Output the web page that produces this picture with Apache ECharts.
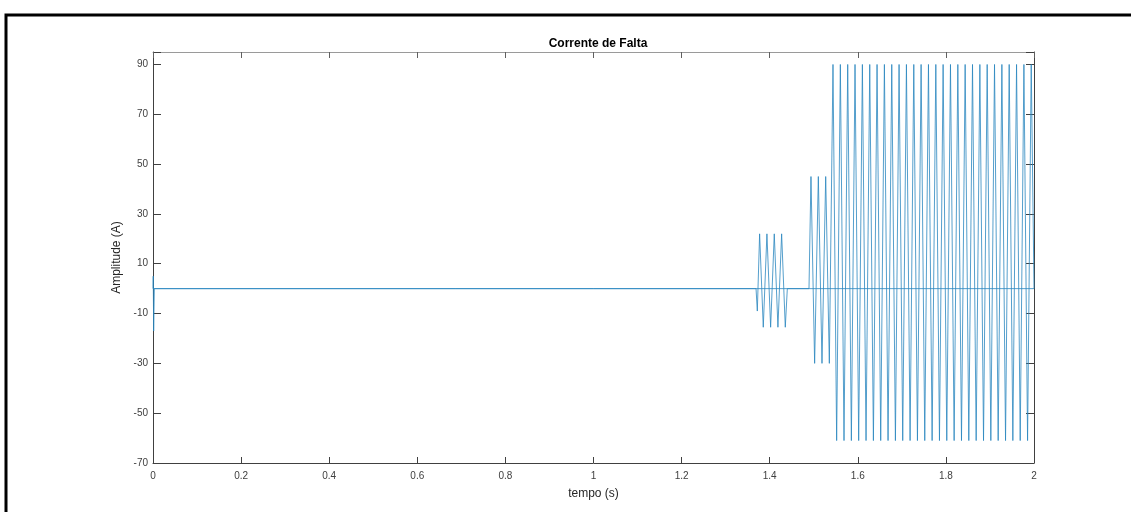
<!DOCTYPE html>
<html>
<head>
<meta charset="utf-8">
<script src="https://cdn.jsdelivr.net/npm/echarts@6/dist/echarts.min.js"></script>
<style>
  html, body { margin: 0; padding: 0; background: #fff; }
  #grafico { width: 1131px; height: 512px; }
</style>
</head>
<body>
<div id="grafico"></div>
<script>
// tempo (s) dos vértices
const tempo = [
  0, 0.0005, 0.0015, 0.003,
  1.369, 1.3719, 1.3771, 1.3854, 1.3937, 1.4021, 1.4104, 1.4187, 1.4271, 1.4354, 1.44,
  1.4892, 1.4937, 1.502, 1.5104, 1.5187, 1.5271, 1.5354,
  1.5437, 1.552, 1.5604, 1.5687, 1.5771, 1.5854, 1.5937, 1.602, 1.6104, 1.6187,
  1.6271, 1.6354, 1.6437, 1.652, 1.6604, 1.6687, 1.6771, 1.6854, 1.6937, 1.702,
  1.7104, 1.7187, 1.7271, 1.7354, 1.7437, 1.752, 1.7604, 1.7687, 1.7771, 1.7854,
  1.7937, 1.802, 1.8104, 1.8187, 1.8271, 1.8354, 1.8437, 1.852, 1.8604, 1.8687,
  1.8771, 1.8854, 1.8937, 1.902, 1.9104, 1.9187, 1.9271, 1.9354, 1.9437, 1.952,
  1.9604, 1.9687, 1.9771, 1.9854, 1.9937, 2
]
// corrente (A) nos mesmos vértices
const corrente = [
  0, 5, -17, 0,
  0, -9, 22, -15.5, 22, -15.5, 22, -15.5, 22, -15.5, 0,
  0, 45, -30, 45, -30, 45, -30,
  90, -61, 90, -61, 90, -61, 90, -61, 90, -61,
  90, -61, 90, -61, 90, -61, 90, -61, 90, -61,
  90, -61, 90, -61, 90, -61, 90, -61, 90, -61,
  90, -61, 90, -61, 90, -61, 90, -61, 90, -61,
  90, -61, 90, -61, 90, -61, 90, -61, 90, -61,
  90, -61, 90, -61, 90, 0
]
// linha de zero
const baseTempo = [0, 2]
const baseCorrente = [0, 0]

const xTicks = [0, 0.2, 0.4, 0.6, 0.8, 1, 1.2, 1.4, 1.6, 1.8, 2]
const yTicks = [-70, -50, -30, -10, 10, 30, 50, 70, 90]

function grafico() {
  const cor = '#2a87bf'
  const texto = '#262626'
  const fonte = 'Liberation Sans, Arial, sans-serif'

  const option = {
    animation: false,
    backgroundColor: '#fff',
    textStyle: { fontFamily: fonte },
    title: {
      text: 'Corrente de Falta',
      left: 593,
      top: 33,
      textAlign: 'center',
      textStyle: { fontSize: 12, fontWeight: 'bold', color: '#000', fontFamily: fonte },
    },
    graphic: [
      {
        type: 'rect',
        shape: { x: 6, y: 15, width: 1300, height: 700 },
        style: { fill: 'none', stroke: '#000', lineWidth: 3 },
        silent: true,
      },
    ],
    grid: { left: 153, right: 97, top: 52, bottom: 49 },
    xAxis: [
      {
        type: 'value',
        min: 0,
        max: 2,
        interval: 0.2,
        name: 'tempo (s)',
        nameLocation: 'middle',
        nameGap: 25,
        nameTextStyle: { fontSize: 12, color: texto },
        axisLine: { onZero: false, lineStyle: { color: '#404040', width: 1 } },
        axisTick: { inside: true, length: 6, lineStyle: { color: '#404040' } },
        axisLabel: {
          fontSize: 10,
          color: '#404040',
          margin: 8,
          formatter: v => (xTicks.includes(+v.toFixed(1)) ? String(+v.toFixed(1)) : ''),
        },
        splitLine: { show: false },
      },
      {
        type: 'value',
        position: 'top',
        min: 0,
        max: 2,
        interval: 0.2,
        axisLine: { show: true, onZero: false, lineStyle: { color: '#9a9a9a', width: 1 } },
        axisTick: { inside: true, length: 6, lineStyle: { color: '#606060' } },
        axisLabel: { show: false },
        splitLine: { show: false },
      },
    ],
    yAxis: [
      {
        type: 'value',
        min: -70,
        max: 95,
        interval: 20,
        name: 'Amplitude (A)',
        nameLocation: 'middle',
        nameGap: 23,
        nameTextStyle: { fontSize: 12, color: texto },
        axisLine: { show: true, onZero: false, lineStyle: { color: '#404040', width: 1 } },
        axisTick: { inside: true, length: 8, lineStyle: { color: '#404040' } },
        axisLabel: {
          fontSize: 10,
          color: '#404040',
          margin: 5,
          formatter: v => (yTicks.includes(v) ? String(v) : ''),
        },
        splitLine: { show: false },
      },
      {
        type: 'value',
        position: 'right',
        min: -70,
        max: 95,
        interval: 20,
        axisLine: { show: true, onZero: false, lineStyle: { color: '#404040', width: 1 } },
        axisTick: { inside: true, length: 8, lineStyle: { color: '#404040' } },
        axisLabel: { show: false },
        splitLine: { show: false },
      },
    ],
    series: [
      {
        name: 'zero',
        type: 'line',
        data: baseTempo.map((t, i) => [t, baseCorrente[i]]),
        showSymbol: false,
        lineStyle: { color: cor, width: 0.8 },
      },
      {
        name: 'corrente',
        type: 'line',
        data: tempo.map((t, i) => [t, corrente[i]]),
        showSymbol: false,
        lineStyle: { color: cor, width: 0.8 },
      },
    ],
  }

  var myChart = echarts.init(document.getElementById('grafico'))
  myChart.setOption(option)
}

grafico()
</script>
</body>
</html>
